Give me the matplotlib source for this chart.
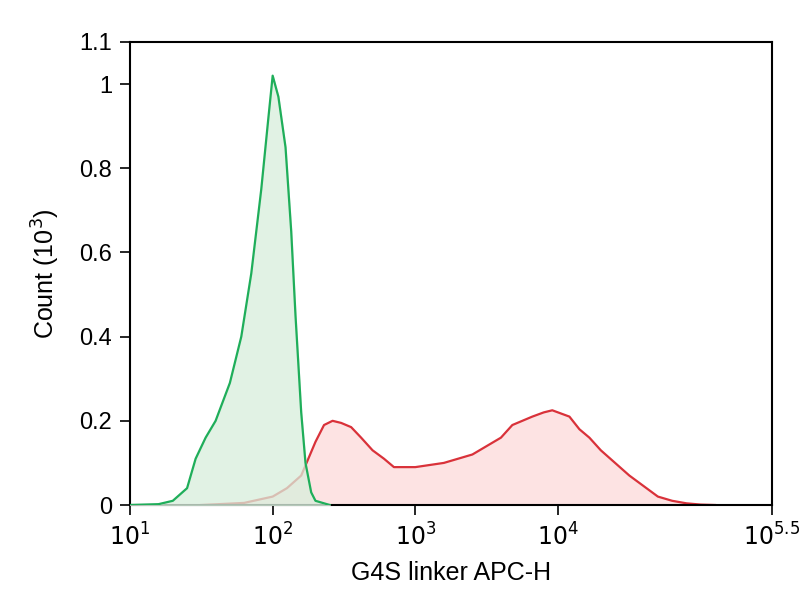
import matplotlib
matplotlib.use("Agg")
import matplotlib.pyplot as plt
import numpy as np

plt.rcParams['font.family'] = ['Liberation Sans', 'DejaVu Sans']

green_logx = [1.0, 1.2, 1.3, 1.4, 1.46, 1.53, 1.6, 1.7, 1.78, 1.85, 1.92, 1.97, 2.0, 2.04, 2.09, 2.13, 2.16, 2.2, 2.23, 2.27, 2.3, 2.4]
green_y = [0.0, 0.002, 0.01, 0.04, 0.11, 0.16, 0.2, 0.29, 0.4, 0.55, 0.75, 0.92, 1.02, 0.97, 0.85, 0.65, 0.45, 0.22, 0.1, 0.03, 0.01, 0.0]

red_logx = [1.5, 1.8, 2.0, 2.1, 2.2, 2.3, 2.36, 2.42, 2.48, 2.55, 2.62, 2.7, 2.78, 2.85, 3.0, 3.1, 3.2, 3.3, 3.4, 3.5, 3.6, 3.68, 3.75, 3.82, 3.9, 3.96, 4.0, 4.08, 4.15, 4.22, 4.3, 4.4, 4.5, 4.6, 4.7, 4.8, 4.9, 5.0, 5.1]
red_y = [0.0, 0.005, 0.02, 0.04, 0.07, 0.15, 0.19, 0.2, 0.195, 0.185, 0.16, 0.13, 0.11, 0.09, 0.09, 0.095, 0.1, 0.11, 0.12, 0.14, 0.16, 0.19, 0.2, 0.21, 0.22, 0.225, 0.22, 0.21, 0.18, 0.16, 0.13, 0.1, 0.07, 0.045, 0.02, 0.01, 0.004, 0.001, 0.0]

xticks_log = [1, 2, 3, 4, 5.5]
xtick_labels = ['$10^1$', '$10^2$', '$10^3$', '$10^4$', '$10^{5.5}$']
yticks = [0, 0.2, 0.4, 0.6, 0.8, 1, 1.1]
ytick_labels = ['0', '0.2', '0.4', '0.6', '0.8', '1', '1.1']

fig = plt.figure(figsize=(8.04, 6.0), dpi=100)
ax = fig.add_axes([130/804, 1-505/600, 642/804, 463/600])

gx = 10**np.array(green_logx); rx = 10**np.array(red_logx)
ax.fill_between(rx, red_y, color='#fde3e3', zorder=1)
ax.plot(rx, red_y, color='#d9323a', lw=1.6, zorder=2)
ax.fill_between(gx, green_y, color='#d8eedc', alpha=0.75, zorder=3)
ax.plot(gx, green_y, color='#1fae5a', lw=1.6, zorder=4)

ax.set_xscale('log')
ax.set_xlim(10, 10**5.5)
ax.set_ylim(0, 1.1)
ax.set_xticks([10**v for v in xticks_log])
ax.set_xticklabels(xtick_labels, fontsize=17)
ax.xaxis.set_minor_locator(matplotlib.ticker.NullLocator())
ax.set_yticks(yticks)
ax.set_yticklabels(ytick_labels, fontsize=17)
ax.tick_params(length=7, width=1.2, direction='out', pad=6)
for s in ax.spines.values():
    s.set_linewidth(1.5)
ax.set_xlabel('G4S linker APC-H', fontsize=18, labelpad=8)
ax.set_ylabel('Count (10$^3$)', fontsize=18, labelpad=12)
fig.savefig('out.png', dpi=100)
